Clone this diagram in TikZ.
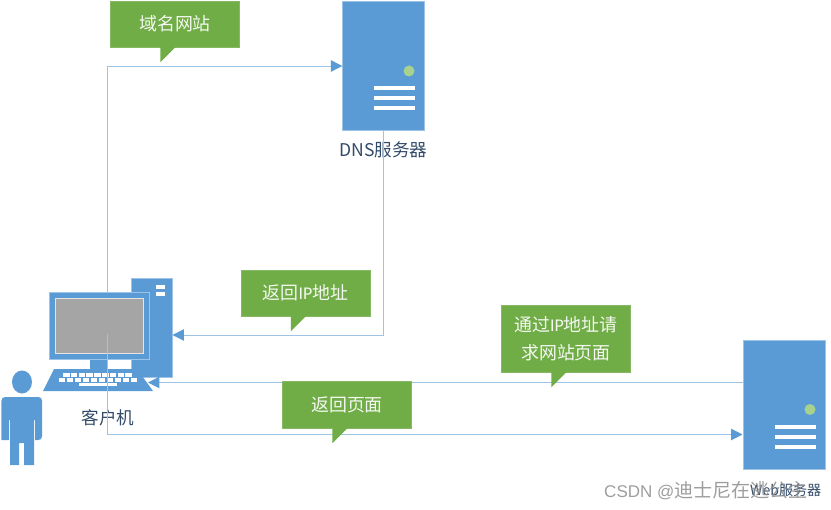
\documentclass[tikz,border=0pt]{standalone}
\usepackage{fontspec}
\setmainfont{Carlito}
\newfontfamily\cjk{Noto Sans CJK SC}
\usetikzlibrary{arrows.meta, backgrounds}
\definecolor{iconBlue}{RGB}{91, 155, 213}
\definecolor{edgeBlue}{RGB}{157, 195, 230}
\definecolor{callGreen}{RGB}{112, 173, 71}
\definecolor{dotGreen}{RGB}{169, 209, 142}
\definecolor{screenGray}{RGB}{165, 165, 165}
\definecolor{labelInk}{RGB}{50, 75, 105}
\tikzset{
  server/.style={
    rectangle, draw=edgeBlue, line width=0.3pt, fill=iconBlue,
    minimum width=2.46cm, minimum height=3.87cm, inner sep=0pt
  },
  callbox/.style={
    rectangle, draw=callGreen!85!white, line width=0.3pt, fill=callGreen,
    minimum width=3.87cm, inner sep=0pt, align=center, text=white!92!callGreen,
    font=\cjk\fontsize{15.3}{24}\selectfont
  },
  caption/.style={
    inner sep=0pt, text=labelInk, font=\cjk\fontsize{15}{18}\selectfont
  },
  link/.style={
    draw=edgeBlue, line width=0.85pt
  },
  linkarr/.style={
    link, -{Triangle[length=3.4mm,width=3.4mm,color=iconBlue]}
  }
}
\begin{document}
\begin{tikzpicture}[x=0.03cm, y=-0.03cm]
  \useasboundingbox (0,0) rectangle (831,510);

  % servers (box, lamp, three bars)
  \foreach \name/\xs/\ys in {dns/383.5/66, web/784.5/404.5} {
    \node[server] (\name) at (\xs, \ys) {};
    \fill[dotGreen] (\xs+25.5, \ys+5) circle (5.5);
    \foreach \k in {0,1,2}
      \fill[white] (\xs-10, \ys+20.5+10*\k) rectangle (\xs+31, \ys+24+10*\k);
  }
  \node[caption] (dnslabel) at (383.5, 150) {DNS{\cjk 服务器}};
  \node[caption, anchor=west, font=\cjk\fontsize{12}{18}\selectfont] (weblabel) at (750, 490) {Web{\cjk 服务器}};

  % client computer
  \node[rectangle, draw=edgeBlue, line width=0.3pt, fill=iconBlue,
        minimum width=1.23cm, minimum height=2.97cm, inner sep=0pt] (tower) at (151.5, 327.5) {};
  \fill[white] (156, 285) rectangle (165, 289);
  \fill[white] (156, 292) rectangle (165, 295.5);
  \fill[iconBlue] (90, 358) rectangle (107, 370);
  \node[rectangle, draw=edgeBlue, line width=0.5pt, fill=iconBlue,
        minimum width=3cm, minimum height=2.01cm, inner sep=0pt] (monitor) at (99, 325.5) {};
  \node[rectangle, draw=white!70!screenGray, line width=0.6pt, fill=screenGray,
        minimum width=2.64cm, minimum height=1.65cm, inner sep=0pt] (screen) at (99, 325.5) {};
  \fill[iconBlue] (43, 391) -- (54, 369) -- (137, 369) -- (153, 391) -- cycle;
  \foreach \k in {0,...,8}
    \fill[white] (63+7.8*\k, 373) rectangle (69.5+7.8*\k, 377);
  \foreach \k in {0,...,9}
    \fill[white] (58.5+8*\k, 378) rectangle (65+8*\k, 381.5);
  \fill[white] (79, 383) rectangle (117, 386);
  \node[caption] (clientlabel) at (108, 418) {客户机};

  % person
  \fill[iconBlue] (22, 382) ellipse (10 and 11.5);
  \fill[iconBlue] [rounded corners=3pt] (1.5, 440) -- (1.5, 397) -- (42, 397) -- (42, 440)
    [sharp corners] -- (35, 440) -- (35, 420) -- (34, 420) -- (34, 465) -- (24, 465) -- (24, 443)
    -- (19, 443) -- (19, 465) -- (10, 465) -- (10, 420) -- (9, 420) -- (9, 440) -- cycle;

  % anchor points on the icons
  \coordinate (start) at (107, 334);
  \coordinate (towerin) at (172.5, 335);
  \coordinate (kbin) at (148, 382.5);
  \coordinate (webout) at (743, 382.5);
  \coordinate (webin) at (742.5, 434.5);

  % connectors
  \begin{pgfonlayer}{background}
    \draw[linkarr] (start) |- (dns.west);
  \end{pgfonlayer}
  \draw[linkarr] (dns.south) |- (towerin);
  \draw[linkarr] (webout) -- (kbin);
  \draw[linkarr] (start) |- (webin);

  % green callouts
  \node[callbox, minimum height=1.38cm] (c1) at (175, 24) {域名网站};
  \node[callbox, minimum height=1.38cm] (c2) at (305.5, 293) {{\cjk 返回}{\fontspec{Carlito}IP}{\cjk 地址}};
  \node[callbox, minimum height=2.01cm] (c3) at (566, 338.5) {通过{\fontspec{Carlito}IP}地址请\\求网站页面};
  \node[callbox, minimum height=1.41cm] (c4) at (347, 404.5) {返回页面};
  \foreach \c in {c1,c2,c3,c4}
    \fill[callGreen] ([xshift=1.5cm]\c.south west) -- ++(0,15) -- ++(15,-15) -- cycle;

  % watermark
  \node[inner sep=0pt, anchor=west, text=gray!90, opacity=0.85,
        font=\fontsize{14.5}{18}\selectfont] (mark) at (604, 491)
    {\fontspec{Liberation Sans}CSDN @{\cjk\fontsize{16.3}{18}\selectfont 迪士尼在逃公主}};
\end{tikzpicture}
\end{document}
